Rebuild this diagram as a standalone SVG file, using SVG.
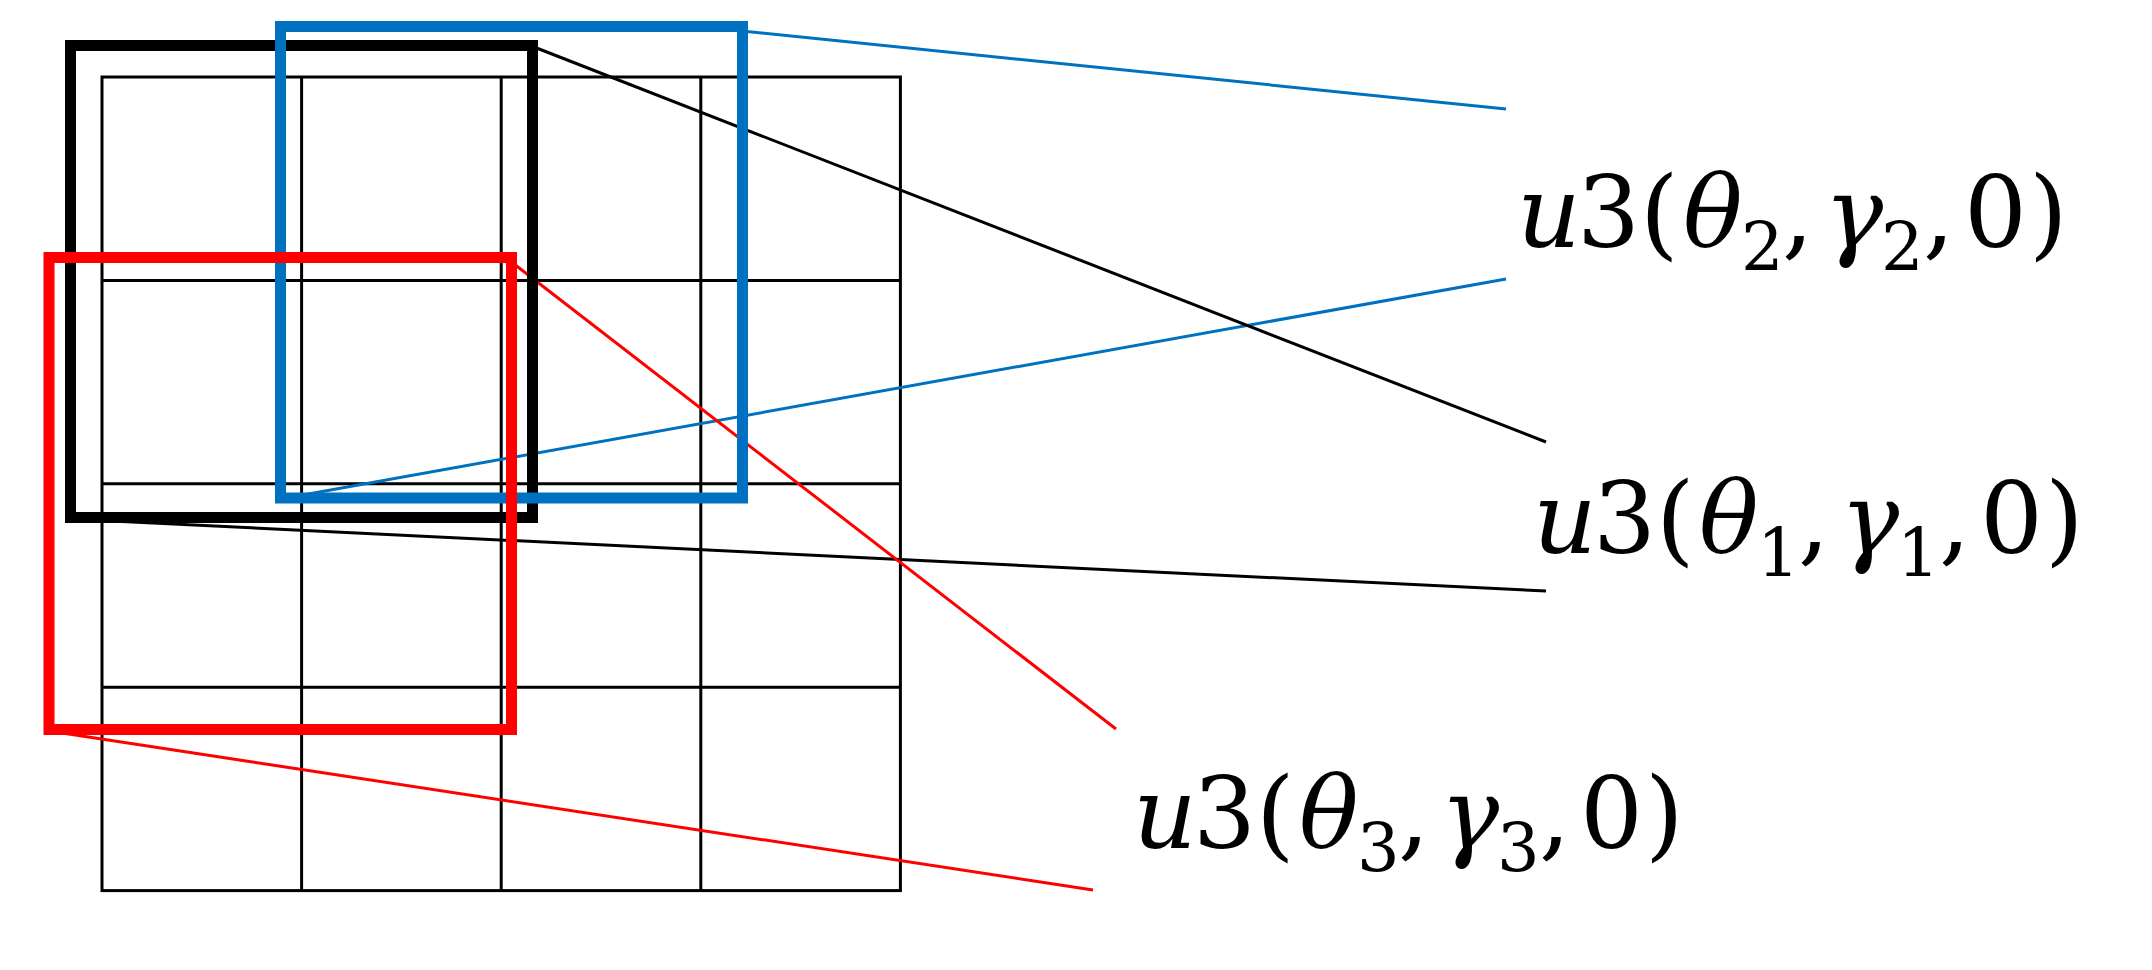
<svg xmlns="http://www.w3.org/2000/svg" width="2152" height="970" viewBox="0 0 2152 970">
<style>
.grid{stroke:#000;stroke-width:3;fill:none}
.box{fill:none;stroke-width:11}
.ln{stroke-width:3;fill:none}
.lbl{font-family:"DejaVu Serif","Liberation Serif",serif;font-size:99px;fill:#000}
.it{font-style:italic}
.sub{font-size:67px}
</style>
<rect width="2152" height="970" fill="#fff"/>
<g id="grid" class="grid">
<rect x="102" y="77" width="798.4" height="813.6"/>
<line x1="301.6" y1="77" x2="301.6" y2="890.6"/>
<line x1="501.2" y1="77" x2="501.2" y2="890.6"/>
<line x1="700.8" y1="77" x2="700.8" y2="890.6"/>
<line x1="102" y1="280.4" x2="900.4" y2="280.4"/>
<line x1="102" y1="483.8" x2="900.4" y2="483.8"/>
<line x1="102" y1="687.2" x2="900.4" y2="687.2"/>
</g>
<g id="connectors">
<line class="ln" stroke="#0070C0" x1="742" y1="31" x2="1506" y2="109"/>
<line class="ln" stroke="#0070C0" x1="286" y1="498" x2="1506" y2="279"/>
<line class="ln" stroke="#000" x1="534" y1="47" x2="1546" y2="442"/>
<line class="ln" stroke="#000" x1="70" y1="519" x2="1546" y2="591"/>
<line class="ln" stroke="#FF0000" x1="514" y1="264" x2="1116" y2="729"/>
<line class="ln" stroke="#FF0000" x1="49" y1="731" x2="1093" y2="890"/>
</g>
<g id="box1"><rect class="box" stroke="#000" x="70.5" y="45.5" width="462" height="472"/></g>
<g id="box2"><rect class="box" stroke="#0070C0" x="280.5" y="26.5" width="462" height="471.5"/></g>
<g id="box3"><rect class="box" stroke="#FF0000" x="49" y="257.5" width="462.5" height="472"/></g>
<g id="label2">
<text class="lbl" y="247"><tspan class="it" x="1517">u</tspan><tspan x="1577">3</tspan><tspan x="1640">(</tspan><tspan class="it" x="1683">θ</tspan><tspan class="sub" x="1741" dy="23">2</tspan><tspan x="1782" dy="-23">,</tspan><tspan class="it" x="1824">γ</tspan><tspan class="sub" x="1881" dy="23">2</tspan><tspan x="1923" dy="-23">,</tspan><tspan x="1964">0</tspan><tspan x="2029">)</tspan></text>
</g>
<g id="label1">
<text class="lbl" y="553"><tspan class="it" x="1533">u</tspan><tspan x="1593">3</tspan><tspan x="1656">(</tspan><tspan class="it" x="1699">θ</tspan><tspan class="sub" x="1757" dy="23">1</tspan><tspan x="1798" dy="-23">,</tspan><tspan class="it" x="1840">γ</tspan><tspan class="sub" x="1897" dy="23">1</tspan><tspan x="1939" dy="-23">,</tspan><tspan x="1980">0</tspan><tspan x="2045">)</tspan></text>
</g>
<g id="label3">
<text class="lbl" y="848"><tspan class="it" x="1133">u</tspan><tspan x="1193">3</tspan><tspan x="1256">(</tspan><tspan class="it" x="1299">θ</tspan><tspan class="sub" x="1357" dy="23">3</tspan><tspan x="1398" dy="-23">,</tspan><tspan class="it" x="1440">γ</tspan><tspan class="sub" x="1497" dy="23">3</tspan><tspan x="1539" dy="-23">,</tspan><tspan x="1580">0</tspan><tspan x="1645">)</tspan></text>
</g>
</svg>
